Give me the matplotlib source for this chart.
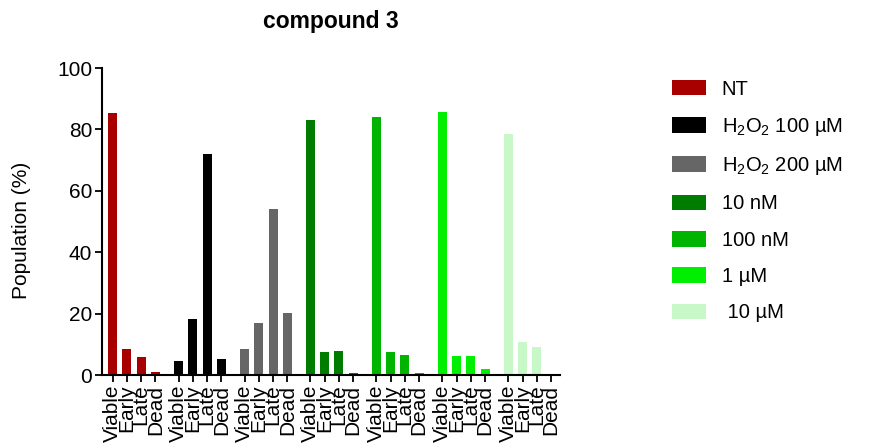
import numpy as np
import matplotlib.pyplot as plt

plt.rcParams['font.family'] = ['Liberation Sans', 'DejaVu Sans']

# data
stages = ['Viable', 'Early', 'Late', 'Dead']
groups = ['NT', '$\\mathregular{H_2O_2}$ 100 µM', '$\\mathregular{H_2O_2}$ 200 µM',
          '10 nM', '100 nM', '1 µM', ' 10 µM']
colors = ['#a80000', '#000000', '#666666', '#007d00', '#00b400', '#00ee00', '#c8f7c8']

nt = [85.3, 8.5, 5.9, 1.0]
h2o2_100 = [4.7, 18.2, 72.0, 5.2]
h2o2_200 = [8.5, 17.0, 54.0, 20.3]
c_10nm = [83.0, 7.5, 7.8, 0.7]
c_100nm = [84.0, 7.6, 6.5, 0.8]
c_1um = [85.7, 6.2, 6.2, 1.8]
c_10um = [78.5, 10.7, 9.2, 0.3]
values = [nt, h2o2_100, h2o2_200, c_10nm, c_100nm, c_1um, c_10um]

group_step = 4.63
fig = plt.figure(figsize=(8.77, 4.45), dpi=100)
ax = fig.add_axes([0.1163, 0.1573, 0.5222, 0.6897])

ticks = []
for g, (vals, col, name) in enumerate(zip(values, colors, groups)):
    xs = g * group_step + np.arange(len(stages))
    ax.bar(xs, vals, width=0.63, color=col, label=name)
    ticks.extend(xs)

ax.set_xticks(ticks)
ax.set_xticklabels(stages * len(groups), rotation=90, fontsize=15)
ax.set_xlim(-0.75, 3 + 6 * group_step + 0.63)
ax.set_ylim(0, 100)
ax.set_yticks(np.arange(0, 101, 20))
ax.tick_params(axis='y', labelsize=15, length=5, width=1.3, pad=2)
ax.tick_params(axis='x', length=5, width=1.3, pad=2)
ax.set_ylabel('Population (%)', fontsize=15)
ax.yaxis.set_label_coords(-0.155, 0.47)
ax.set_title('compound 3', fontsize=16.5, fontweight='bold', pad=29)

for s in ['top', 'right']:
    ax.spines[s].set_visible(False)
for s in ['left', 'bottom']:
    ax.spines[s].set_linewidth(1.5)

fig.legend(loc='upper left', bbox_to_anchor=(0.746, 0.862), frameon=False,
           fontsize=14.5, handlelength=1.65, handleheight=0.8,
           labelspacing=0.86, handletextpad=0.8)

fig.savefig('out.png', dpi=100)
